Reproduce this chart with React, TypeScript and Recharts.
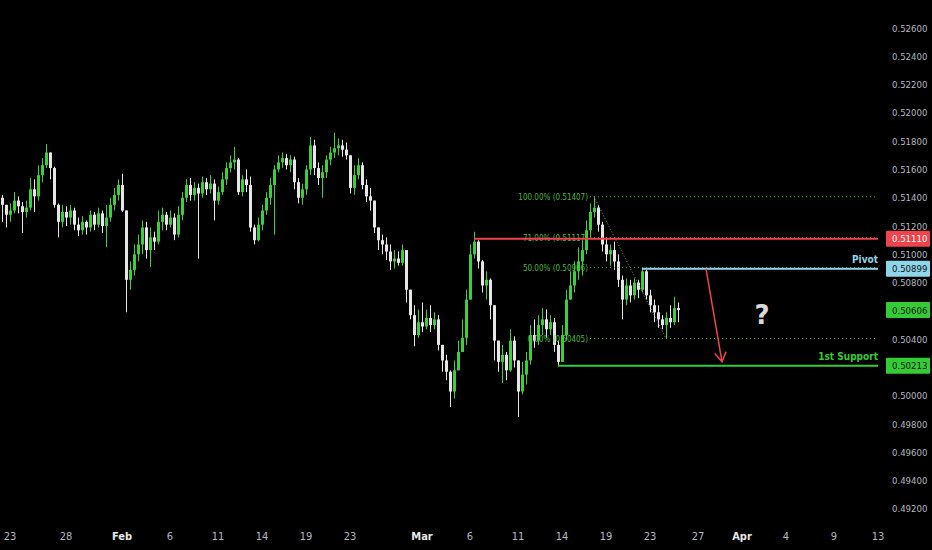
import React from 'react';
import { ComposedChart, Bar, XAxis, YAxis, ReferenceLine, ReferenceDot } from 'recharts';

// 4h candles, open = previous close
const firstOpen = 0.514;

const closes = [
  0.5135, 0.5128, 0.5131, 0.5138, 0.5134, 0.513, 0.5133, 0.5146, 0.5141, 0.5156,
  0.5163, 0.5172, 0.5161, 0.5135, 0.5123, 0.513, 0.5126, 0.5131, 0.5121, 0.5117,
  0.5123, 0.5119, 0.5128, 0.5121, 0.5129, 0.512, 0.5126, 0.5135, 0.5142, 0.5149,
  0.5131, 0.5082, 0.5089, 0.51, 0.5107, 0.5119, 0.5103, 0.5112, 0.5109, 0.5123,
  0.5128, 0.5121, 0.5126, 0.5114, 0.5128, 0.514, 0.5149, 0.5142, 0.5147, 0.5143,
  0.5151, 0.5146, 0.515, 0.5138, 0.5144, 0.5153, 0.5161, 0.5165, 0.5167, 0.5144,
  0.5153, 0.5149, 0.5119, 0.511, 0.5121, 0.5131, 0.514, 0.5149, 0.516, 0.5165,
  0.5168, 0.5163, 0.5167, 0.5151, 0.514, 0.5146, 0.516, 0.5177, 0.5161, 0.5154,
  0.5158, 0.5167, 0.5172, 0.5175, 0.5177, 0.5174, 0.517, 0.5147, 0.5156, 0.5163,
  0.5149, 0.5141, 0.5138, 0.5119, 0.511, 0.5107, 0.5102, 0.5095, 0.5097, 0.5094,
  0.5103, 0.5075, 0.5057, 0.5043, 0.5052, 0.5049, 0.5055, 0.505, 0.5054, 0.5036,
  0.5025, 0.5017, 0.5003, 0.5018, 0.5031, 0.5041, 0.5068, 0.51, 0.5109, 0.5095,
  0.5078, 0.5082, 0.5064, 0.5039, 0.5024, 0.5029, 0.5018, 0.5039, 0.5025, 0.5003,
  0.5015, 0.5025, 0.5043, 0.5039, 0.505, 0.5054, 0.5047, 0.5052, 0.5036, 0.5024,
  0.5043, 0.5068, 0.5078, 0.5088, 0.5095, 0.5103, 0.5117, 0.513, 0.5133, 0.5121,
  0.5107, 0.51, 0.5103, 0.5095, 0.5082, 0.5068, 0.5078, 0.5071, 0.508, 0.5075,
  0.5088, 0.5071, 0.5064, 0.5059, 0.5054, 0.505, 0.5055, 0.5052, 0.5062, 0.50606,
];

const highs = [
  0.5142, 0.5135, 0.5136, 0.5144, 0.5141, 0.5137, 0.5138, 0.5154, 0.5153, 0.5163,
  0.5168, 0.5178, 0.5167, 0.5162, 0.5136, 0.5135, 0.5134, 0.5135, 0.5133, 0.5126,
  0.5127, 0.5124, 0.5131, 0.513, 0.5133, 0.5131, 0.5135, 0.514, 0.5147, 0.5153,
  0.5157, 0.5112, 0.5095, 0.5107, 0.5114, 0.5124, 0.5123, 0.5119, 0.5116, 0.5131,
  0.5133, 0.513, 0.5131, 0.5129, 0.5134, 0.5144, 0.5153, 0.5154, 0.5151, 0.515,
  0.5155, 0.5154, 0.5156, 0.5153, 0.5148, 0.5158, 0.5165, 0.517, 0.5176, 0.5168,
  0.5156, 0.516, 0.5155, 0.5121, 0.5126, 0.5135, 0.5144, 0.5154, 0.5163, 0.517,
  0.5172, 0.5171, 0.517, 0.5169, 0.5154, 0.515, 0.5163, 0.5183, 0.5181, 0.5165,
  0.5163, 0.517, 0.5176, 0.5186, 0.5182, 0.5181, 0.5179, 0.517, 0.5163, 0.5168,
  0.5165, 0.5153, 0.5147, 0.5135, 0.5117, 0.5114, 0.5112, 0.5107, 0.5103, 0.5102,
  0.5107, 0.5103, 0.5075, 0.5064, 0.5061, 0.5066, 0.5061, 0.5064, 0.5059, 0.5057,
  0.5036, 0.5029, 0.5018, 0.5025, 0.5039, 0.5054, 0.5075, 0.5107, 0.5116, 0.511,
  0.5096, 0.5088, 0.5083, 0.5064, 0.5039, 0.5036, 0.5031, 0.5047, 0.5042, 0.5025,
  0.5024, 0.5031, 0.505, 0.5054, 0.5057, 0.5062, 0.5061, 0.5057, 0.5055, 0.5039,
  0.505, 0.5075, 0.5088, 0.5095, 0.5105, 0.511, 0.5124, 0.5136, 0.51407, 0.5135,
  0.5123, 0.5112, 0.5107, 0.5109, 0.51, 0.5085, 0.5083, 0.5082, 0.5083, 0.5082,
  0.509, 0.5089, 0.5075, 0.5068, 0.5064, 0.5057, 0.5059, 0.5064, 0.507, 0.5066,
];

const lows = [
  0.5123, 0.5119, 0.5123, 0.5129, 0.5129, 0.5115, 0.5126, 0.5131, 0.513, 0.5138,
  0.5151, 0.5161, 0.5153, 0.5133, 0.5112, 0.5119, 0.512, 0.5121, 0.5117, 0.5113,
  0.5114, 0.5114, 0.5116, 0.5117, 0.5119, 0.5115, 0.5105, 0.5123, 0.5131, 0.5138,
  0.513, 0.5059, 0.5075, 0.5085, 0.5095, 0.51, 0.5097, 0.5091, 0.5103, 0.5107,
  0.5117, 0.5117, 0.5119, 0.511, 0.5112, 0.5124, 0.5137, 0.5138, 0.5138, 0.5097,
  0.514, 0.5142, 0.5143, 0.5124, 0.5135, 0.5142, 0.5149, 0.5158, 0.516, 0.5142,
  0.5141, 0.5144, 0.5116, 0.5107, 0.5109, 0.5117, 0.5128, 0.5135, 0.5114, 0.5158,
  0.5161, 0.516, 0.5158, 0.5146, 0.5136, 0.5135, 0.5142, 0.5156, 0.5156, 0.5149,
  0.514, 0.5154, 0.5163, 0.5168, 0.517, 0.5169, 0.5167, 0.5143, 0.5142, 0.5153,
  0.5146, 0.5137, 0.5131, 0.5115, 0.5103, 0.51, 0.5096, 0.5089, 0.509, 0.5092,
  0.5092, 0.5066, 0.5054, 0.5035, 0.5041, 0.5045, 0.5047, 0.5045, 0.5047, 0.5032,
  0.5017, 0.5011, 0.4992, 0.4998, 0.5024, 0.5032, 0.5036, 0.5068, 0.5097, 0.509,
  0.5073, 0.5068, 0.5054, 0.5025, 0.5017, 0.5009, 0.5011, 0.5017, 0.502, 0.4985,
  0.5001, 0.5008, 0.5022, 0.5034, 0.5036, 0.5043, 0.5041, 0.5043, 0.5031, 0.50213,
  0.503, 0.5039, 0.5068, 0.5073, 0.5082, 0.5085, 0.51, 0.5112, 0.5126, 0.5116,
  0.5102, 0.5095, 0.5092, 0.5089, 0.5077, 0.5054, 0.5064, 0.5066, 0.5068, 0.5069,
  0.5073, 0.5068, 0.5059, 0.5052, 0.5048, 0.5047, 0.50405, 0.5048, 0.505, 0.5052,
];

// empty slots to the right of the last candle
const totalSlots = 220;

const dateTicks = [2, 16, 30, 42, 54, 65, 76, 87, 105, 117, 129, 140, 151, 162, 174, 185, 196, 208, 219];
const dateLabels = ['23', '28', 'Feb', '6', '11', '14', '19', '23', 'Mar', '6', '11', '14', '19', '23', '27', 'Apr', '4', '9', '13'];
const monthLabels = ['Feb', 'Mar', 'Apr'];

const priceTicks = [0.526, 0.524, 0.522, 0.52, 0.518, 0.516, 0.514, 0.512, 0.51, 0.508, 0.504, 0.5, 0.498, 0.496, 0.494, 0.492];

const resistance = 0.5111;
const pivot = 0.50899;
const lastPrice = 0.50606;
const support = 0.50213;

const fibLevels = [0.51407, 0.51117, 0.50906, 0.50405];
const fibNames = ['100.00% (0.51407)', '71.00% (0.51117)', '50.00% (0.50906)', '0.00% (0.50405)'];

const UP = '#3ccf3c';
const DOWN = '#e6e6e6';
const RED = '#f0434c';
const CYAN = '#8ed6ea';
const GREEN = '#34cc34';
const FIB = '#4cb83c';
const FONT = '"Liberation Sans Narrow", "DejaVu Sans Condensed", sans-serif';

const rows = Array.from({ length: totalSlots }, (_, i) => {
  if (i >= closes.length) return { i };
  const o = i === 0 ? firstOpen : closes[i - 1];
  const c = closes[i];
  const lo = Math.min(lows[i], o, c);
  const hi = Math.max(highs[i], o, c);
  return { i, o, c, range: [lo, hi] };
});

const Candle = (props: any) => {
  const { x, y, width, height, payload } = props;
  if (!payload || payload.o == null) return null;
  const top = Math.min(y, y + height);
  const h = Math.abs(height);
  const [lo, hi] = payload.range;
  const k = h / (hi - lo);
  const cx = Math.round(x + width / 2);
  const color = payload.c >= payload.o ? UP : DOWN;
  const bTop = top + (hi - Math.max(payload.o, payload.c)) * k;
  const bH = Math.max(1, Math.abs(payload.c - payload.o) * k);
  return (
    <g>
      <line x1={cx + 0.5} x2={cx + 0.5} y1={top} y2={top + h} stroke={color} strokeWidth={1} />
      <rect x={cx - 1} y={bTop} width={3} height={bH} fill={color} />
    </g>
  );
};

const markers: Record<string, { bg: string; fg: string }> = {
  [String(resistance)]: { bg: RED, fg: '#ffffff' },
  [String(pivot)]: { bg: CYAN, fg: '#101010' },
  [String(lastPrice)]: { bg: GREEN, fg: '#101010' },
  [String(support)]: { bg: GREEN, fg: '#101010' },
};

const PriceTick = (props: any) => {
  const { y, payload } = props;
  const v = payload.value;
  const m = markers[String(v)];
  const label = v.toFixed(5);
  const text = (fill: string) => (
    <text x={892} y={y + 3.5} fill={fill} fontSize={9.5} fontFamily={FONT}>{label}</text>
  );
  if (m) {
    return (
      <g>
        <rect x={886} y={y - 8} width={44} height={16} fill={m.bg} rx={1} />
        {text(m.fg)}
      </g>
    );
  }
  return text('#b4b8c0');
};

const DateTick = (props: any) => {
  const { x, payload } = props;
  const label = dateLabels[dateTicks.indexOf(payload.value)];
  const month = monthLabels.includes(label);
  return (
    <text x={x} y={540} textAnchor="middle" fill={month ? '#e8e8e8' : '#b4b8c0'}
      fontSize={11} fontWeight={month ? 'bold' : 'normal'} fontFamily={FONT}>{label}</text>
  );
};

const Arrow = (props: any) => {
  const { x1, y1, x2, y2 } = props;
  const a = Math.atan2(y2 - y1, x2 - x1);
  const L = 11;
  const s = 0.55;
  return (
    <g stroke={RED} strokeWidth={1.5} fill="none">
      <line x1={x1} y1={y1} x2={x2} y2={y2} />
      <polyline points={`${x2 - L * Math.cos(a - s)},${y2 - L * Math.sin(a - s)} ${x2},${y2} ${x2 - L * Math.cos(a + s)},${y2 - L * Math.sin(a + s)}`} />
    </g>
  );
};

const fibLabel = (text: string) => (p: any) => {
  const vb = p.viewBox;
  return (
    <text x={vb.x - 2} y={vb.y + 3} textAnchor="end" fill={FIB} fontSize={8} fontFamily={FONT}>{text}</text>
  );
};

const lineLabel = (text: string, color: string) => (p: any) => {
  const vb = p.viewBox;
  return (
    <text x={vb.x + vb.width} y={vb.y - 6} textAnchor="end" fill={color} fontSize={10}
      fontWeight="bold" fontFamily={FONT}>{text}</text>
  );
};

const last = totalSlots - 1;

export default function App() {
  return (
    <div style={{ position: 'fixed', left: 0, top: 0, width: 932, height: 550, background: '#000' }}>
      <ComposedChart width={932} height={550} data={rows} margin={{ top: 0, right: 0, bottom: 0, left: 0 }} barCategoryGap={0}>
        <XAxis dataKey="i" type="category" ticks={dateTicks} interval={0} tick={<DateTick />}
          axisLine={false} tickLine={false} height={30} />
        <YAxis orientation="right" width={52} domain={[0.49122, 0.52798]} allowDataOverflow
          ticks={[...priceTicks, resistance, pivot, lastPrice, support]} interval={0}
          tick={<PriceTick />} axisLine={false} tickLine={false} />
        <Bar dataKey="range" shape={<Candle />} isAnimationActive={false} />
        {fibLevels.map((v, k) => (
          <ReferenceLine key={k} segment={[{ x: 147, y: v }, { x: last, y: v }]} stroke={FIB}
            strokeDasharray="1 3" label={fibLabel(fibNames[k])} />
        ))}
        <ReferenceLine segment={[{ x: 148, y: fibLevels[0] }, { x: 166, y: fibLevels[3] }]}
          stroke="#8a8a8a" strokeDasharray="1 2" />
        <ReferenceLine segment={[{ x: 118, y: resistance }, { x: last, y: resistance }]} stroke={RED} strokeWidth={2} />
        <ReferenceLine segment={[{ x: 160, y: pivot }, { x: last, y: pivot }]} stroke={CYAN} strokeWidth={2}
          label={lineLabel('Pivot', CYAN)} />
        <ReferenceLine segment={[{ x: 139, y: support }, { x: last, y: support }]} stroke={GREEN} strokeWidth={2}
          label={lineLabel('1st Support', GREEN)} />
        <ReferenceLine segment={[{ x: 176, y: pivot }, { x: 180, y: 0.5024 }]} shape={<Arrow />} />
        <ReferenceDot x={190} y={0.5057} r={0}
          shape={(p: any) => (
            <text x={p.cx} y={p.cy + 9} textAnchor="middle" fill="#d8d8d8" fontSize={26}
              fontWeight="bold" fontFamily="DejaVu Sans, sans-serif">?</text>
          )} />
      </ComposedChart>
    </div>
  );
}
